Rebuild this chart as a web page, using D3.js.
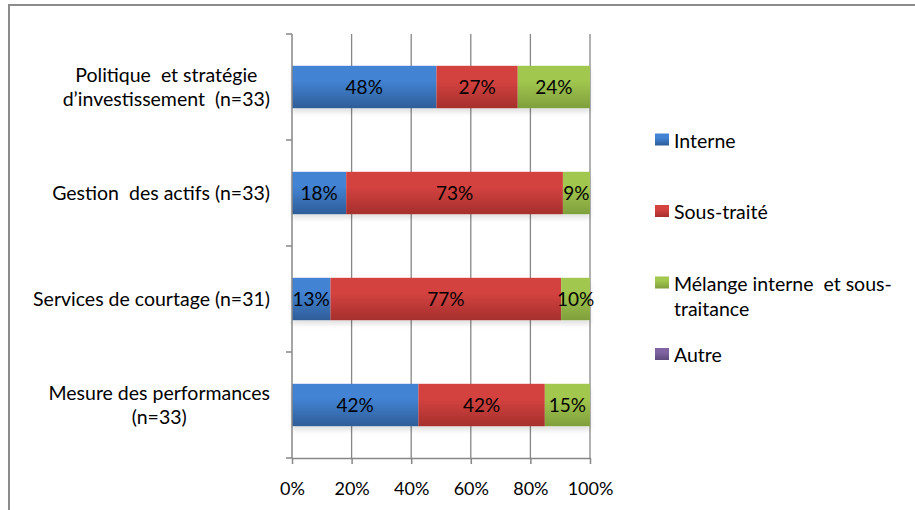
<!DOCTYPE html>
<html>
<head>
<meta charset="utf-8">
<script src="https://cdn.jsdelivr.net/npm/d3@7"></script>
<style>
  html, body { margin: 0; padding: 0; background: #fff; }
  svg { display: block; font-family: Lato, "Open Sans", sans-serif; }
</style>
</head>
<body>
<svg id="chart" width="915" height="510"></svg>
<script>
// Categories (top to bottom)
const categories = [
  ["Politique  et stratégie", "d’investissement  (n=33)"],
  ["Gestion  des actifs (n=33)"],
  ["Services de courtage (n=31)"],
  ["Mesure des performances", "(n=33)"]
];
const seriesNames = ["Interne", "Sous-traité", "Mélange interne  et sous-|traitance", "Autre"];
// Share of respondents per category, in percent
const interne    = [48.48, 18.18, 12.90, 42.42];
const sousTraite = [27.27, 72.73, 77.42, 42.42];
const melange    = [24.24,  9.09,  9.68, 15.15];
const autre      = [0, 0, 0, 0];
const xTicks = [0, 20, 40, 60, 80, 100];

const colors = [
  ["#4283d3", "#2e5d98"],
  ["#d44340", "#a52f2d"],
  ["#a2c74f", "#7f9f3c"],
  ["#8064a2", "#5f4a7a"]
];

const svg = d3.select("#chart");
const W = 915, H = 510;
const plot = { left: 292, right: 590, top: 34, bottom: 458 };

// outer chart frame
svg.append("rect")
  .attr("x", 9).attr("y", 5).attr("width", W + 10).attr("height", H + 10)
  .attr("fill", "#fff").attr("stroke", "#8c8c8c").attr("stroke-width", 2);

const defs = svg.append("defs");
colors.forEach((c, i) => {
  const g = defs.append("linearGradient").attr("id", "grad" + i)
    .attr("x1", 0).attr("y1", 0).attr("x2", 0).attr("y2", 1);
  g.append("stop").attr("offset", "0%").attr("stop-color", c[0]);
  g.append("stop").attr("offset", "35%").attr("stop-color", c[0]);
  g.append("stop").attr("offset", "100%").attr("stop-color", c[1]);
});
const shadow = defs.append("filter").attr("id", "shadow")
  .attr("x", "-5%").attr("y", "-20%").attr("width", "110%").attr("height", "160%");
shadow.append("feGaussianBlur").attr("in", "SourceAlpha").attr("stdDeviation", 2.5);
shadow.append("feOffset").attr("dx", 0).attr("dy", 4).attr("result", "off");
shadow.append("feComponentTransfer").append("feFuncA").attr("type", "linear").attr("slope", 0.12);
const merge = shadow.append("feMerge");
merge.append("feMergeNode");
merge.append("feMergeNode").attr("in", "SourceGraphic");

const x = d3.scaleLinear().domain([0, 100]).range([plot.left, plot.right]);
const y = d3.scaleBand().domain(d3.range(categories.length))
  .range([plot.top, plot.bottom]).paddingInner(0.6).paddingOuter(0.3);
const band = (plot.bottom - plot.top) / categories.length;

// vertical gridlines
svg.append("g").selectAll("line").data(xTicks.slice(1)).join("line")
  .attr("x1", d => x(d)).attr("x2", d => x(d))
  .attr("y1", plot.top).attr("y2", plot.bottom)
  .attr("stroke", "#878787").attr("stroke-width", 1.3);

// stacked bars
const series = [interne, sousTraite, melange, autre];
const rows = categories.map((c, i) => {
  const obj = { i };
  series.forEach((s, k) => obj["s" + k] = s[i]);
  return obj;
});
const stack = d3.stack().keys(series.map((s, k) => "s" + k))(rows);

const barG = svg.append("g");
rows.forEach((r, i) => {
  const g = barG.append("g").attr("filter", "url(#shadow)");
  stack.forEach((layer, k) => {
    const d = layer[i];
    if (d[1] - d[0] <= 0) return;
    g.append("rect")
      .attr("x", x(d[0])).attr("width", x(d[1]) - x(d[0]))
      .attr("y", y(i)).attr("height", y.bandwidth())
      .attr("fill", `url(#grad${k})`);
  });
});

// value labels
const labelG = svg.append("g").attr("font-size", 19).attr("fill", "#000").attr("text-anchor", "middle");
stack.forEach((layer, k) => {
  layer.forEach((d, i) => {
    const v = series[k][i];
    if (v <= 0) return;
    labelG.append("text")
      .attr("x", (x(d[0]) + x(d[1])) / 2)
      .attr("y", y(i) + y.bandwidth() / 2 + 7)
      .text(Math.round(v) + "%");
  });
});

// y axis line and ticks
svg.append("line").attr("x1", plot.left).attr("x2", plot.left)
  .attr("y1", plot.top).attr("y2", plot.bottom)
  .attr("stroke", "#878787").attr("stroke-width", 1.5);
svg.append("g").selectAll("line").data(d3.range(categories.length + 1)).join("line")
  .attr("x1", plot.left - 6).attr("x2", plot.left)
  .attr("y1", d => plot.top + d * band).attr("y2", d => plot.top + d * band)
  .attr("stroke", "#878787").attr("stroke-width", 1.5);

// x axis
const xAxis = svg.append("g").attr("transform", `translate(0,${plot.bottom})`)
  .call(d3.axisBottom(x).tickValues(xTicks).tickFormat(d => d + "%").tickSize(6).tickSizeOuter(0));
xAxis.select(".domain").attr("stroke", "#878787").attr("stroke-width", 1.5);
xAxis.selectAll(".tick line").attr("stroke", "#878787").attr("stroke-width", 1.5);
xAxis.selectAll(".tick text").attr("font-size", 18).attr("font-family", "Lato, sans-serif")
  .attr("fill", "#000").attr("dy", null).attr("y", 37);

// category labels: block right-aligned at the axis, lines centred inside the block
const catG = svg.append("g").attr("font-size", 19.5).attr("fill", "#000").attr("text-anchor", "middle");
const labelRight = 270;
categories.forEach((lines, i) => {
  const cy = y(i) + y.bandwidth() / 2;
  const n = lines.length;
  const texts = lines.map((t, j) => catG.append("text")
    .attr("y", cy + 6.5 + (j - (n - 1) / 2) * 24)
    .style("white-space", "pre")
    .text(t));
  const widest = d3.max(texts, t => t.node().getComputedTextLength());
  texts.forEach(t => t.attr("x", labelRight - widest / 2));
});

// legend
const legG = svg.append("g").attr("font-size", 19.5).attr("fill", "#000");
seriesNames.forEach((name, k) => {
  const cy = 140 + k * 71.5;
  legG.append("rect").attr("x", 655).attr("y", cy - 6.5).attr("width", 14).attr("height", 12)
    .attr("fill", `url(#grad${k})`);
  name.split("|").forEach((t, j) => {
    legG.append("text").attr("x", 674).attr("y", cy + 7.5 + j * 25)
      .style("white-space", "pre").text(t);
  });
});
</script>
</body>
</html>
